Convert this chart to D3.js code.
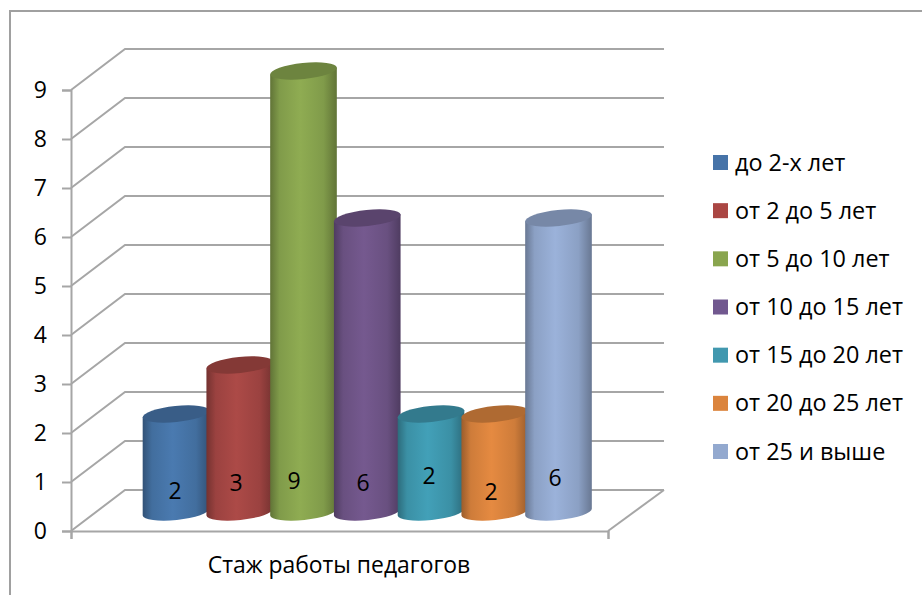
<!DOCTYPE html>
<html>
<head>
<meta charset="utf-8">
<script src="https://cdn.jsdelivr.net/npm/d3@7"></script>
<style>
  html, body { margin: 0; padding: 0; background: #fff; }
  text { font-family: "Open Sans", "Noto Sans", sans-serif; fill: #000; }
</style>
</head>
<body>
<svg id="chart" width="922" height="595"></svg>
<script>
const seriesNames = ['до 2-х лет', 'от 2 до 5 лет', 'от 5 до 10 лет', 'от 10 до 15 лет', 'от 15 до 20 лет', 'от 20 до 25 лет', 'от 25 и выше']
const seriesValues = [2, 3, 9, 6, 2, 2, 6]
const valueTicks = [0, 1, 2, 3, 4, 5, 6, 7, 8, 9]
const categoryName = 'Стаж работы педагогов'
const seriesColors = ['#4a7ab0', '#ac4a47', '#8fac52', '#75598f', '#42a0b8', '#e58a41', '#9bb2da']
const legendColors = ['#4673a8', '#aa4643', '#89a54e', '#71588f', '#4198af', '#db843d', '#93a9cf']
// the labels were hand dragged in the original, so each has its own spot
const labelX = [175, 236, 294, 363, 429, 491, 555]
const labelY = [491, 483, 481, 483, 476, 492, 478]

const gridColor = '#a6a6a6'
const depthX = 54
const depthY = 41
const rx = 33.5
const ry = 8
const tilt = -6
const floorY = 512

const svg = d3.select('#chart')
const defs = svg.append('defs')

// outer frame, only top and left show in the picture
svg.append('path')
  .attr('d', 'M10,595V11H922')
  .attr('fill', 'none')
  .attr('stroke', '#a0a0a0')
  .attr('stroke-width', 2)

const y = d3.scaleLinear().domain([0, 9]).range([531, 90])
const x = d3.scalePoint().domain(seriesNames).range([176, 558.5])
const frontX = d3.scaleLinear().domain([0, 1]).range([71, 608])

// back wall + side wall lines
const backRight = 664
svg.append('g').selectAll('path')
  .data(valueTicks)
  .join('path')
  .attr('d', (d) => {
    const yy = y(d)
    return `M${frontX(0)},${yy}L${frontX(0) + depthX},${yy - depthY}H${backRight}`
  })
  .attr('fill', 'none')
  .attr('stroke', gridColor)
  .attr('stroke-width', 2)

// floor edge on the right
svg.append('path')
  .attr('d', `M${frontX(1)},${y(0)}L${backRight},${y(0) - depthY}`)
  .attr('fill', 'none')
  .attr('stroke', gridColor)
  .attr('stroke-width', 2)

// value axis
const yAxis = svg.append('g')
  .attr('transform', `translate(${frontX(0)},0)`)
  .call(d3.axisLeft(y).tickValues(valueTicks).tickSize(9).tickPadding(15).tickFormat(d3.format('d')))
yAxis.select('.domain').attr('stroke', gridColor).attr('stroke-width', 2)
yAxis.selectAll('.tick line').attr('stroke', gridColor).attr('stroke-width', 2)
yAxis.selectAll('.tick text').attr('font-size', 23).style('font-family', '"Open Sans", sans-serif').attr('fill', '#000')

// category axis
const xAxis = svg.append('g')
  .attr('transform', `translate(0,${y(0)})`)
  .call(d3.axisBottom(frontX).tickValues([0, 1]).tickSize(8).tickFormat(''))
xAxis.select('.domain').attr('stroke', gridColor).attr('stroke-width', 2)
xAxis.selectAll('.tick line').attr('stroke', gridColor).attr('stroke-width', 2)

svg.append('text')
  .attr('x', 339)
  .attr('y', 573)
  .attr('text-anchor', 'middle')
  .attr('font-size', 22.9)
  .text(categoryName)

// gradients for the cylinders
seriesColors.forEach((c, i) => {
  const g = defs.append('linearGradient').attr('id', `cyl${i}`)
  const dark = d3.color(c).darker(1.1)
  const mid = d3.color(c).darker(0.3)
  g.append('stop').attr('offset', '0%').attr('stop-color', dark)
  g.append('stop').attr('offset', '14%').attr('stop-color', mid)
  g.append('stop').attr('offset', '45%').attr('stop-color', c)
  g.append('stop').attr('offset', '80%').attr('stop-color', mid)
  g.append('stop').attr('offset', '100%').attr('stop-color', dark)
})

const rad = tilt * Math.PI / 180
const dx = rx * Math.cos(rad)
const dy = rx * Math.sin(rad)

const bars = svg.append('g').selectAll('g')
  .data(seriesValues)
  .join('g')

bars.append('path')
  .attr('d', (d, i) => {
    const cx = x(seriesNames[i])
    const top = floorY - (y(0) - y(d))
    return `M${cx - dx},${top - dy}L${cx - dx},${floorY - dy}` +
      `A${rx},${ry} ${tilt} 0 0 ${cx + dx},${floorY + dy}` +
      `L${cx + dx},${top + dy}Z`
  })
  .attr('fill', (_, i) => `url(#cyl${i})`)

bars.append('ellipse')
  .attr('rx', rx)
  .attr('ry', ry)
  .attr('transform', (d, i) => `translate(${x(seriesNames[i])},${floorY - (y(0) - y(d))}) rotate(${tilt})`)
  .attr('fill', (_, i) => d3.color(seriesColors[i]).darker(0.75))

svg.append('g').selectAll('text')
  .data(seriesValues)
  .join('text')
  .attr('x', (_, i) => labelX[i])
  .attr('y', (_, i) => labelY[i])
  .attr('dy', '0.35em')
  .attr('text-anchor', 'middle')
  .attr('font-size', 23)
  .text((d) => d)

// legend
const legendY = d3.scalePoint().domain(seriesNames).range([162.5, 451.5])
const legend = svg.append('g').selectAll('g')
  .data(seriesNames)
  .join('g')
  .attr('transform', (d) => `translate(713,${legendY(d)})`)

legend.append('rect')
  .attr('y', -7.5)
  .attr('width', 15)
  .attr('height', 15)
  .attr('fill', (_, i) => legendColors[i])

legend.append('text')
  .attr('x', 22)
  .attr('y', 8)
  .attr('font-size', 23.4)
  .text((d) => d)
</script>
</body>
</html>
